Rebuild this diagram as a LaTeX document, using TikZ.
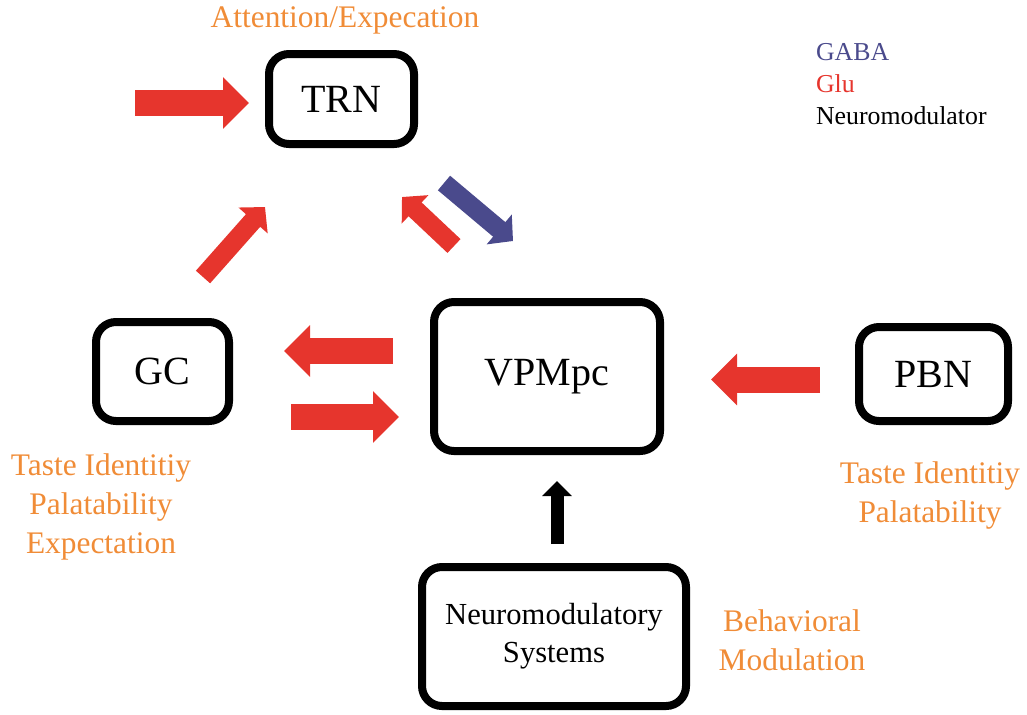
\documentclass[tikz,border=0pt]{standalone}
\usepackage{fontspec}
\setmainfont{LiberationSerif}[Extension=.ttf, UprightFont=*-Regular,
  BoldFont=*-Bold, ItalicFont=*-Italic, BoldItalicFont=*-BoldItalic]
\usetikzlibrary{arrows.meta}

\definecolor{glured}{RGB}{230,53,45}
\definecolor{gabablue}{RGB}{74,74,140}
\definecolor{noteorange}{RGB}{240,140,55}

\begin{document}
\begin{tikzpicture}[x=0.5pt, y=-0.5pt,
    area/.style={draw, line width=4pt, rounded corners=10pt, inner sep=0pt,
      align=center, font=\fontsize{20}{24}\selectfont},
    note/.style={text=noteorange, align=center, font=\fontsize{15.7}{19.5}\selectfont},
    glu/.style={draw=glured, line width=13pt, -{Triangle[length=13pt, width=25pt]}},
    tilted/.style={line width=9.5pt, -{Triangle[length=9pt, width=19pt]}},
    gaba/.style={draw=gabablue, tilted}
  ]
  \useasboundingbox (0,0) rectangle (1027,714);

  % brain areas
  \node (TRN) [area, minimum width=72.5pt, minimum height=45pt] at (341.5,99) {TRN};
  \node (VPMpc) [area, minimum width=113pt, minimum height=74.5pt] at (547,376.5) {VPMpc};
  \node (GC) [area, minimum width=66.5pt, minimum height=49.5pt] at (162.5,371.5) {GC};
  \node (PBN) [area, minimum width=74.5pt, minimum height=47pt] at (933.5,374) {PBN};
  \node (NS) [area, minimum width=132pt, minimum height=69.5pt,
    font=\fontsize{15.3}{19}\selectfont] at (554,636.5) {Neuromodulatory\\Systems};

  % what each area carries
  \node (attn) [note] at (345,20) {Attention/Expecation};
  \node (gcnote) [note] at (101,507) {Taste Identitiy\\Palatability\\Expectation};
  \node (pbnnote) [note] at (930,495) {Taste Identitiy\\Palatability};
  \node (behav) [note] at (792,640) {Behavioral\\Modulation};

  \node (legend) [anchor=west, align=left, font=\fontsize{12.9}{16}\selectfont]
    at (809,84) {\textcolor{gabablue}{GABA}\\\textcolor{glured}{Glu}\\Neuromodulator};

  % projections
  \coordinate (trnin) at (135,103);
  \draw [glu] (trnin) -- ([shift={(-16,4)}]TRN.west);
  \draw [glu, tilted] ([shift={(-30,-41)}]GC.north east) -- ([shift={(0,59)}]TRN.south west);
  \draw [glu, tilted] ([shift={(24,-52)}]VPMpc.north west) -- ([shift={(-16,49)}]TRN.south east);
  \draw [gaba] ([shift={(26,35)}]TRN.south east) -- ([shift={(-34,-57)}]VPMpc.north);
  \draw [glu] ([shift={(-37,-25.5)}]VPMpc.west) -- ([shift={(51,-20.5)}]GC.east);
  \draw [glu] ([shift={(58,45.5)}]GC.east) -- ([shift={(-31,40.5)}]VPMpc.west);
  \draw [glu] ([shift={(-35,5.5)}]PBN.west) -- ([shift={(47,3)}]VPMpc.east);
  \draw [line width=6.5pt, -{Triangle[length=7.5pt, width=14.5pt]}]
    ([shift={(3,-19)}]NS.north) -- ([shift={(10,26)}]VPMpc.south);
\end{tikzpicture}
\end{document}
